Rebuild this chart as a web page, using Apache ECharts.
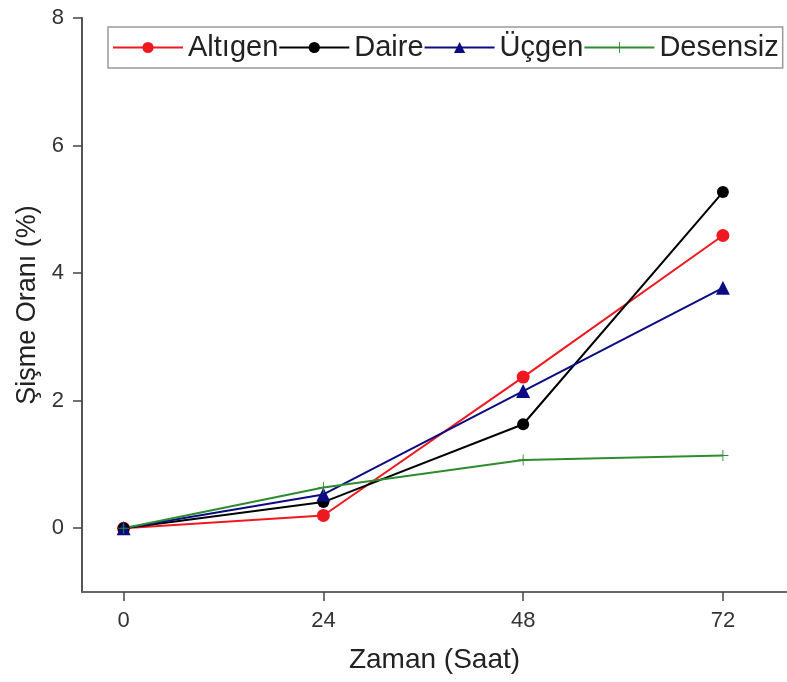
<!DOCTYPE html>
<html>
<head>
<meta charset="utf-8">
<script src="https://cdn.jsdelivr.net/npm/echarts@6/dist/echarts.min.js"></script>
<style>
  html, body { margin: 0; padding: 0; background: #fff; }
  #chart { width: 787px; height: 682px; }
</style>
</head>
<body>
<div id="chart"></div>
<script>
// zaman (saat)
const hours = [0, 24, 48, 72];
const altigen = [0, 0.2, 2.37, 4.59];
const daire = [0, 0.41, 1.63, 5.27];
const ucgen = [0, 0.53, 2.15, 3.77];
const desensiz = [0, 0.64, 1.07, 1.14];
const xTicks = [0, 24, 48, 72];
const yTicks = [0, 2, 4, 6, 8];

const plus = 'path://M5.5 0 L6.5 0 L6.5 5.5 L12 5.5 L12 6.5 L6.5 6.5 L6.5 12 L5.5 12 L5.5 6.5 L0 6.5 L0 5.5 L5.5 5.5 Z';

const chart = echarts.init(document.getElementById('chart'));

function pairs(ys) {
    return hours.map((h, i) => [h, ys[i]]);
}

function serie(name, ys, color, symbol, size) {
    return {
        name: name,
        type: 'line',
        data: pairs(ys),
        symbol: symbol,
        symbolSize: size,
        showAllSymbol: true,
        lineStyle: { color: color, width: 2 },
        itemStyle: { color: color },
        emphasis: { disabled: true },
        z: 3
    };
}

const option = {
    animation: false,
    textStyle: { fontFamily: 'Liberation Sans, Arial, sans-serif' },
    grid: { left: 82, right: 0, top: 18, bottom: 90, containLabel: false },
    legend: {
        left: 108,
        top: 27,
        padding: [5, 4, 5, 4],
        itemGap: 0,
        itemWidth: 70,
        itemHeight: 14,
        borderColor: '#999',
        borderWidth: 1.5,
        textStyle: { fontSize: 29, lineHeight: 31, color: '#222' },
        data: ['Altıgen', 'Daire', 'Üçgen', 'Desensiz']
    },
    xAxis: {
        type: 'value',
        min: -5,
        max: 79.7,
        name: 'Zaman (Saat)',
        nameLocation: 'middle',
        nameGap: 54,
        nameTextStyle: { fontSize: 28, color: '#222' },
        splitLine: { show: false },
        axisLine: { onZero: false, lineStyle: { color: '#666', width: 2 } },
        axisTick: { show: true, customValues: xTicks, length: 9, lineStyle: { color: '#444', width: 1.5 } },
        axisLabel: { customValues: xTicks, fontSize: 22, color: '#333', margin: 18 }
    },
    yAxis: {
        type: 'value',
        min: -1,
        max: 8,
        name: 'Şişme Oranı (%)',
        nameLocation: 'middle',
        nameGap: 41,
        nameRotate: 90,
        nameTextStyle: { fontSize: 27, color: '#222' },
        splitLine: { show: false },
        axisLine: { show: true, onZero: false, lineStyle: { color: '#555', width: 2 } },
        axisTick: { show: true, customValues: yTicks, length: 9, lineStyle: { color: '#444', width: 1.5 } },
        axisLabel: { customValues: yTicks, fontSize: 22, color: '#333', margin: 18 }
    },
    series: [
        serie('Altıgen', altigen, '#f01820', 'circle', 13),
        serie('Daire', daire, '#000000', 'circle', 12),
        serie('Üçgen', ucgen, '#0c0c82', 'triangle', 14),
        serie('Desensiz', desensiz, '#2e8b30', plus, 11)
    ]
};

chart.setOption(option);
</script>
</body>
</html>
